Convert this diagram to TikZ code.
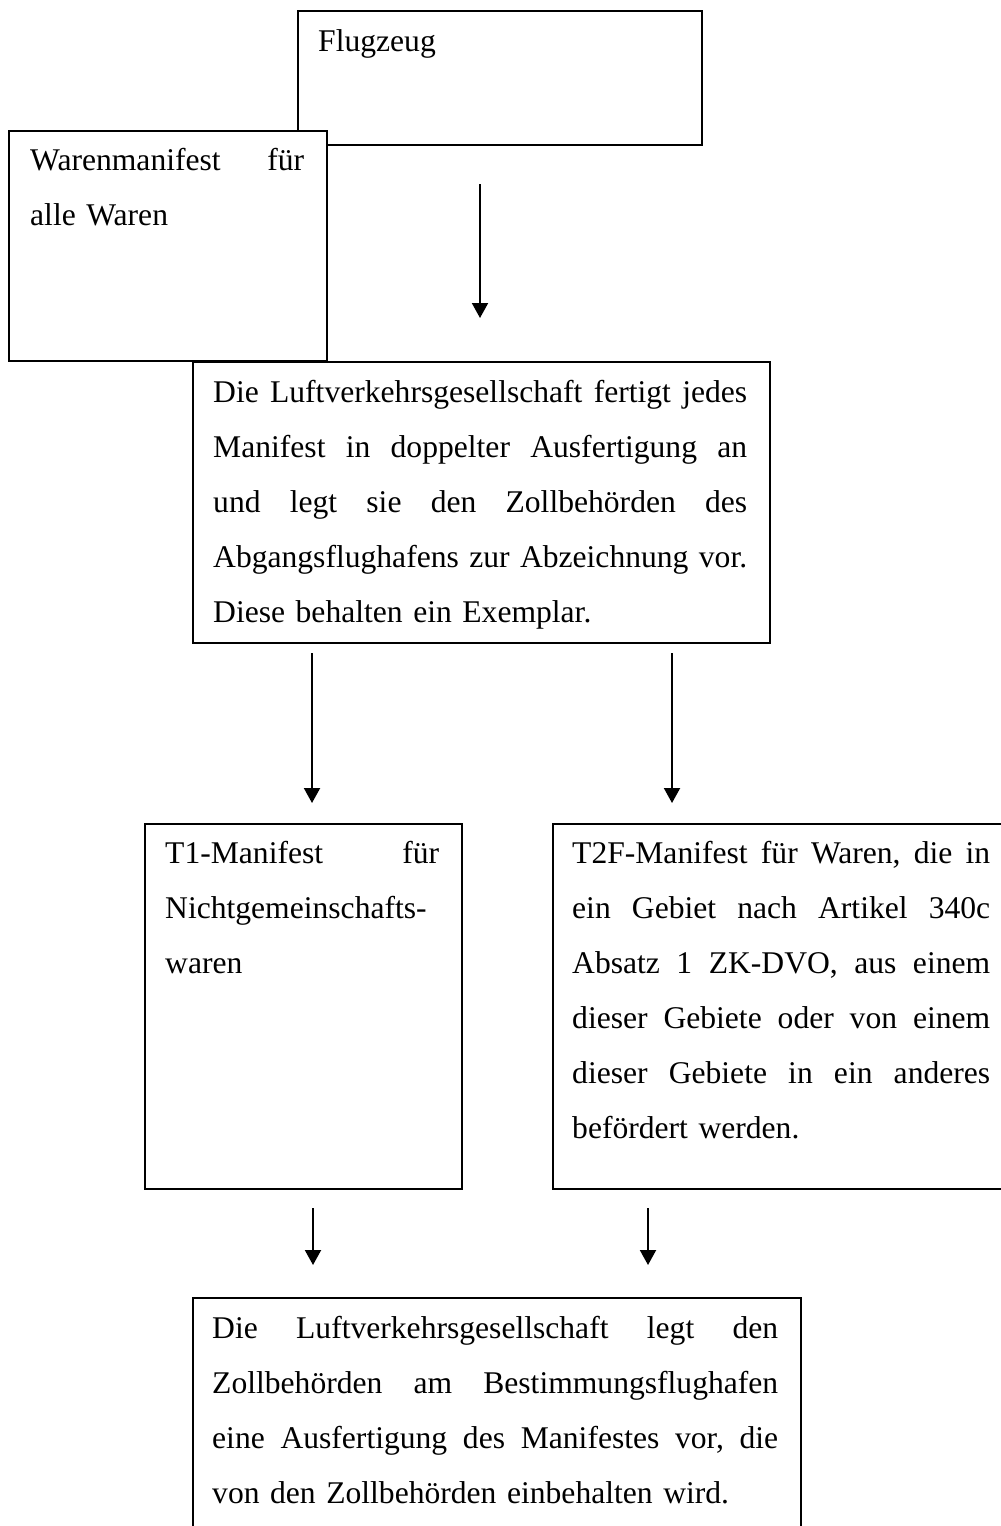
\documentclass[tikz,border=0pt]{standalone}
\usepackage{fontspec}
\setmainfont{Liberation Serif}
\usetikzlibrary{arrows.meta}
\newcommand\boxfont{\fontsize{31.6}{55}\selectfont}
% a justified line of the given width; words are separated by \hfill
\newcommand\jline[2]{\leavevmode\hbox to #1{#2}}
\begin{document}
\begin{tikzpicture}[x=1pt,y=-1pt,
  box/.style={draw,line width=1.6pt,fill=white,rectangle,inner sep=0pt,anchor=north west},
  txt/.style={anchor=base west,inner sep=0pt,text width=#1,align=left,font=\boxfont},
  arr/.style={line width=2pt,-{Triangle[width=16pt,length=15pt]}}]
  \fill[white] (0,0) rectangle (1001,1526);
  \clip (0,0) rectangle (1001,1526);

  % boxes
  \node[box,minimum width=404pt,minimum height=134pt] (flug) at (297,10) {};
  \node[box,minimum width=318pt,minimum height=230pt] (waren) at (8,130) {};
  \node[box,minimum width=577pt,minimum height=281pt] (luft) at (192,361) {};
  \node[box,minimum width=317pt,minimum height=365pt] (tone) at (144,823) {};
  \node[box,minimum width=459pt,minimum height=365pt] (ttwo) at (552,823) {};
  \node[box,minimum width=608pt,minimum height=300pt] (dest) at (192,1297) {};

  % texts
  \node[txt=362pt] (flugT) at ([shift={(21pt,-41pt)}]flug.north west) {Flugzeug};
  \node[txt=274pt] (warenT) at ([shift={(22pt,-40pt)}]waren.north west)
    {\jline{274pt}{Warenmanifest\hfill für}\\ alle Waren};
  \node[txt=534pt] (luftT) at ([shift={(21pt,-41pt)}]luft.north west)
    {\jline{534pt}{Die\hfill Luftverkehrsgesellschaft\hfill fertigt\hfill jedes}\\
     \jline{534pt}{Manifest\hfill in\hfill doppelter\hfill Ausfertigung\hfill an}\\
     \jline{534pt}{und\hfill legt\hfill sie\hfill den\hfill Zollbehörden\hfill des}\\
     \jline{534pt}{Abgangsflughafens\hfill zur\hfill Abzeichnung\hfill vor.}\\
     Diese behalten ein Exemplar.};
  \node[txt=274pt] (toneT) at ([shift={(21pt,-40pt)}]tone.north west)
    {\jline{274pt}{T1-Manifest\hfill für}\\ Nichtgemeinschafts-\\ waren};
  \node[txt=418pt] (ttwoT) at ([shift={(20pt,-40pt)}]ttwo.north west)
    {\jline{418pt}{T2F-Manifest\hfill für\hfill Waren,\hfill die\hfill in}\\
     \jline{418pt}{ein\hfill Gebiet\hfill nach\hfill Artikel\hfill 340c}\\
     \jline{418pt}{Absatz\hfill 1\hfill ZK-DVO,\hfill aus\hfill einem}\\
     \jline{418pt}{dieser\hfill Gebiete\hfill oder\hfill von\hfill einem}\\
     \jline{418pt}{dieser\hfill Gebiete\hfill in\hfill ein\hfill anderes}\\
     befördert werden.};
  \node[txt=566pt] (destT) at ([shift={(20pt,-41pt)}]dest.north west)
    {\jline{566pt}{Die\hfill Luftverkehrsgesellschaft\hfill legt\hfill den}\\
     \jline{566pt}{Zollbehörden\hfill am\hfill Bestimmungsflughafen}\\
     \jline{566pt}{eine\hfill Ausfertigung\hfill des\hfill Manifestes\hfill vor,\hfill die}\\
     von den Zollbehörden einbehalten wird.};

  % connector end points
  \coordinate (a1) at (480,184);  \coordinate (b1) at (480,318);
  \coordinate (a2) at (312,653);  \coordinate (b2) at (312,803);
  \coordinate (a3) at (672,653);  \coordinate (b3) at (672,803);
  \coordinate (a4) at (313,1208); \coordinate (b4) at (313,1265);
  \coordinate (a5) at (648,1208); \coordinate (b5) at (648,1265);

  \draw[arr] (a1) -- (b1);
  \draw[arr] (a2) -- (b2);
  \draw[arr] (a3) -- (b3);
  \draw[arr] (a4) -- (b4);
  \draw[arr] (a5) -- (b5);
\end{tikzpicture}
\end{document}
